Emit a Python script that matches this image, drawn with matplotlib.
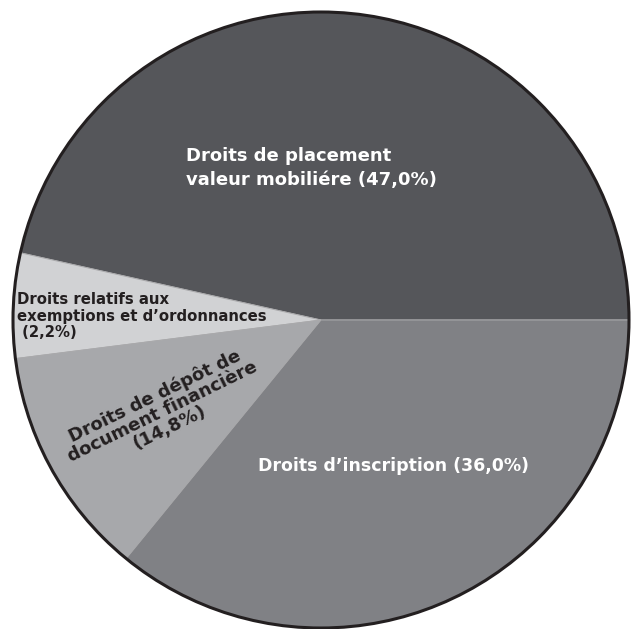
import matplotlib
matplotlib.use("Agg")
import matplotlib.pyplot as plt
from matplotlib.patches import Circle

# Data (drawn wedge shares; label texts as printed)
categories = ["Droits de placement valeur mobiliére",
              "Droits relatifs aux exemptions et d'ordonnances",
              "Droits de dépôt de document financière",
              "Droits d'inscription"]
shares = [46.5, 5.5, 12.1, 35.9]
label_pct = ["47,0%", "2,2%", "14,8%", "36,0%"]
colors = ["#55565a", "#d1d2d4", "#a7a8ab", "#808185"]

W, H = 639, 629
fig = plt.figure(figsize=(W / 100, H / 100), dpi=100)
ax = fig.add_axes([0, 0, 1, 1])

cx, cy, r = 321, H - 320, 308
ax.pie(shares, colors=colors, startangle=0, counterclock=True,
       center=(cx, cy), radius=r, frame=True,
       wedgeprops=dict(edgecolor="#a9a9ab", linewidth=0.7))
ax.set_xlim(0, W)
ax.set_ylim(0, H)
ax.set_aspect("equal")
ax.axis("off")
ax.add_patch(Circle((cx, cy), r, fill=False, ec="#231f20", lw=2.2, zorder=5))

font = "DejaVu Sans"

def px(x, y):
    return x, H - y

ax.text(*px(186, 168), f"Droits de placement\nvaleur mobiliére ({label_pct[0]})",
        color="white", fontsize=13, fontweight="bold", family=font,
        ha="left", va="center", linespacing=1.4)

ax.text(*px(393, 466), f"Droits d\u2019inscription ({label_pct[3]})",
        color="white", fontsize=12.5, fontweight="bold", family=font,
        ha="center", va="center")

ax.text(*px(17, 316), f"Droits relatifs aux\nexemptions et d\u2019ordonnances\n ({label_pct[1]})",
        color="#231f20", fontsize=10.7, fontweight="bold", family=font,
        ha="left", va="center", linespacing=1.1)

ax.text(*px(162, 412), f"Droits de dépôt de\ndocument financière\n({label_pct[2]})",
        color="#231f20", fontsize=13, fontweight="bold", family=font,
        ha="center", va="center", rotation=26, rotation_mode="anchor",
        multialignment="center", linespacing=0.95)

fig.savefig("out.png", dpi=100, facecolor="white")
